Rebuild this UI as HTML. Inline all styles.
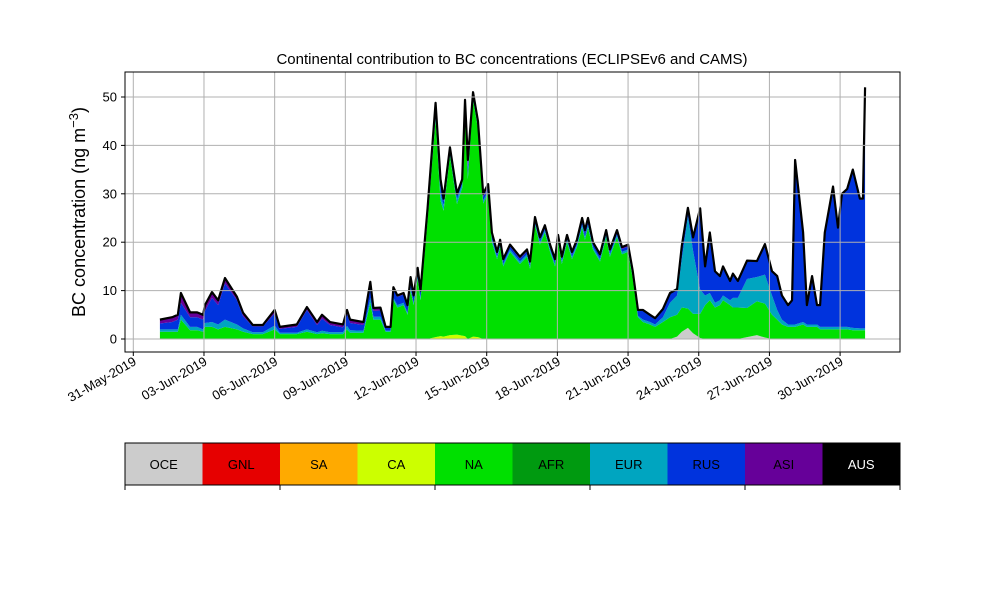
<!DOCTYPE html>
<html><head><meta charset="utf-8"><style>
body{margin:0;background:#fff}
svg text{font-family:"Liberation Sans","DejaVu Sans",sans-serif;fill:#000}
</style></head><body>
<svg id="c" width="1000" height="600"></svg>
<script>
const days=[1.13,1.65,1.89,2.02,2.41,2.71,2.96,3.04,3.34,3.6,3.89,4.4,4.66,5.07,5.5,6.0,6.22,6.94,7.37,7.8,8.01,8.35,8.9,9.07,9.2,9.77,10.06,10.19,10.49,10.71,10.92,11.04,11.21,11.47,11.64,11.77,11.9,12.07,12.19,12.49,12.83,13.04,13.17,13.44,13.74,13.96,14.08,14.2,14.42,14.63,14.85,15.06,15.22,15.44,15.57,15.7,15.99,16.41,16.71,16.84,17.05,17.26,17.47,17.69,17.9,18.03,18.19,18.41,18.62,18.83,19.05,19.17,19.3,19.51,19.81,20.07,20.23,20.53,20.74,21.0,21.2,21.42,21.63,21.93,22.15,22.48,22.78,23.08,23.28,23.54,23.76,24.06,24.27,24.47,24.69,24.9,25.03,25.33,25.45,25.66,26.05,26.47,26.81,27.11,27.33,27.53,27.79,27.96,28.09,28.43,28.59,28.81,29.02,29.15,29.35,29.7,29.91,30.08,30.3,30.54,30.84,30.97,31.06];
const total=[4,4.5,5,9.5,5.5,5.5,5,7,9.7,8,12.6,8.7,5.4,2.9,2.9,6,2.5,3,6.6,3.5,5,3.5,3,6,4,3.5,11.8,6.4,6.5,2.5,2.5,10.7,9,9.5,7,12.8,9,14.7,10,27,48.8,33,29,39.5,30,33,49.4,37,51,45,30,32,22,18,20.5,16.5,19.5,17,18.5,16,25.2,21,23.5,19.5,16.5,21.5,17,21.5,18,20.5,25,22.5,25,20,17.5,22.5,18.5,22.5,19,19.5,14,6,6,5,4.3,6.2,9.5,10,18,25,20,27,15,22,14,13,15,12,13.5,12,16,15.5,19.5,14,13,9,7,8,37,22,7,13,7,7,22,31.5,23,30,31,35,29,29,52];
const na=[1.5,1.5,1.5,4,1.8,1.8,1.5,2.5,2.5,2,2.5,2,1.5,1,1,2,1,1,1.5,1,1.2,1,1,2,1.3,1.3,7.5,4,4,1.5,1.5,8,6.5,7,5,10,7,12.5,8,24.5,45,28,26,37,27,30.5,46.5,33,49,43,28,30,20,16.5,19,15,18,15.5,17,14.5,23.5,19.5,22,18,15,20,15.5,20,16.5,19,23,20.5,23,18.5,16,21,17,21,17.5,18,12.5,4.5,3.5,3,2.5,3.5,4.5,4.5,5,4,4,5,7,8,6.5,7,8,7,6.5,6.5,6,7,7,5,4,3,2.5,2.5,2.5,3,2.5,2.5,2.5,2,2,2,2,2,2,1.8,1.8,1.8,1.8];
const eur=[0.5,0.5,0.5,1,0.7,0.7,0.5,0.8,1,1,1.5,1,0.7,0.4,0.4,0.8,0.3,0.3,0.5,0.4,0.5,0.4,0.4,0.7,0.5,0.4,1,0.6,0.6,0.2,0.2,0.5,0.5,0.5,0.4,0.5,0.4,0.5,0.4,0.8,1,1.5,1,0.8,1,0.8,0.8,1,0.6,0.6,0.6,0.6,0.6,0.5,0.5,0.5,0.5,0.5,0.5,0.5,0.5,0.5,0.5,0.5,0.5,0.5,0.5,0.5,0.5,0.5,0.6,0.6,0.6,0.5,0.5,0.5,0.5,0.5,0.5,0.5,0.5,0.3,0.5,0.5,0.5,1,3,4,10,19,13,5,2,1.5,1,1,1,1,2,2,6,5,6,4,2,1,0.5,0.5,0.5,0.5,0.5,0.5,0.5,0.5,0.5,0.5,0.5,0.5,0.5,0.5,0.4,0.4,0.4,0.4];
const rus=[1.2,1.5,2,2.5,2,2,2,2.5,5,4,7.5,5,2.5,1.2,1.2,2.5,0.8,1.2,4,1.5,2.5,1.5,1,2.5,1.5,1.2,2.5,1.2,1.3,0.6,0.6,1.8,1.7,1.7,1.4,2,1.4,1.5,1.4,1.2,1.5,1.5,1,1,1,1,1,1.5,0.8,0.8,0.8,0.8,0.8,0.6,0.6,0.6,0.6,0.6,0.6,0.6,0.6,0.6,0.6,0.6,0.6,0.6,0.6,0.6,0.6,0.6,0.8,0.8,0.8,0.6,0.6,0.6,0.6,0.6,0.6,0.6,0.6,1,1.8,1.3,1.1,1.5,1.8,1.3,2.7,1.8,2.8,16.8,5.8,12.3,6.3,4.8,5.8,3.8,4.8,3.3,3.8,3.3,6.3,4.8,6.8,4.8,3.8,4.8,33.8,18.3,3.8,9.8,3.8,4.3,19.3,28.8,20.3,27.3,28.3,32.6,26.6,26.6,49.6];
const oceDays=[23.08,23.28,23.54,23.76,24.06,26.05,26.47,26.81];
const oceVals=[0.5,1.5,2.3,1.2,0.2,0.4,0.8,0.3];
const caDays=[12.83,13.04,13.17,13.44,13.74,13.96,14.08,14.42,14.63];
const caVals=[0.4,0.6,0.5,0.8,0.9,0.7,0.6,0.5,0.4];
const oce=days.map(d=>{const k=oceDays.indexOf(d);return k<0?0:oceVals[k];});
const ca=days.map(d=>{const k=caDays.indexOf(d);return k<0?0:caVals[k];});
const yTicks=[0,10,20,30,40,50];
const xTickDays=[0,3,6,9,12,15,18,21,24,27,30];
const xTickLabels=["31-May-2019","03-Jun-2019","06-Jun-2019","09-Jun-2019","12-Jun-2019","15-Jun-2019","18-Jun-2019","21-Jun-2019","24-Jun-2019","27-Jun-2019","30-Jun-2019"];
const regions=["OCE","GNL","SA","CA","NA","AFR","EUR","RUS","ASI","AUS"];
const regionColors=["#cccccc","#e60000","#ffaa00","#ccff00","#00e000","#009a10","#00a5c0","#0033dd","#660099","#000000"];

const NS="http://www.w3.org/2000/svg",svg=document.getElementById('c');
function el(t,a,p){const e=document.createElementNS(NS,t);for(const k in a)e.setAttribute(k,a[k]);(p||svg).appendChild(e);return e;}
const L=125,R=900,T=72,B=352;
const X=d=>133.3+d*23.56, Y=v=>339-v*4.84;
const layers=[oce,ca,na,eur,rus];
const layerCols=["#cccccc","#ccff00","#00e000","#00a5c0","#0033dd"];
const layerNames=["oce-area","ca-area","na-area","eur-area","rus-area"];
let base=days.map(()=>0);
const stacks=[];
layers.forEach(arr=>{const top=base.map((b,i)=>b+arr[i]);stacks.push([base,top]);base=top;});
stacks.push([base,total.map((t,i)=>Math.max(t,base[i]))]);
layerCols.push("#660099");layerNames.push("asi-area");
const g=el('g',{});

stacks.forEach(([lo,hi],k)=>{
 let d='M'+days.map((t,i)=>X(t)+','+Y(hi[i])).join('L');
 for(let i=days.length-1;i>=0;i--)d+='L'+X(days[i])+','+Y(lo[i]);
 const p=el('path',{d:d+'Z',fill:layerCols[k],stroke:'none'},g);
 
});
const tl=el('polyline',{points:days.map((t,i)=>X(t)+','+Y(stacks[5][1][i])).join(' '),fill:'none',stroke:'#000','stroke-width':2.2,'stroke-linejoin':'round'});

yTicks.forEach(v=>{
 const l=el('line',{x1:L,x2:R,y1:Y(v),y2:Y(v),stroke:'#b0b0b0','stroke-width':1});
 
 el('line',{x1:L-4,x2:L,y1:Y(v),y2:Y(v),stroke:'#000'});
 const t=el('text',{x:L-8,y:Y(v)+4.5,'text-anchor':'end','font-size':13});t.textContent=v;
 
});
xTickDays.forEach((d,i)=>{
 const l=el('line',{x1:X(d),x2:X(d),y1:T,y2:B,stroke:'#b0b0b0','stroke-width':1});
 
 el('line',{x1:X(d),x2:X(d),y1:B,y2:B+4,stroke:'#000'});
 const t=el('text',{x:X(d)+4,y:B+12,'text-anchor':'end','font-size':13,transform:`rotate(-30 ${X(d)+4} ${B+12})`});t.textContent=xTickLabels[i];
 
});
const fr=el('rect',{x:L,y:T,width:R-L,height:B-T,fill:'none',stroke:'#000','stroke-width':1});

const ti=el('text',{x:512,y:64,'text-anchor':'middle','font-size':15});ti.textContent='Continental contribution to BC concentrations (ECLIPSEv6 and CAMS)';

const yl=el('text',{x:0,y:0,'text-anchor':'middle','font-size':18,transform:'translate(85 212) rotate(-90)'});
yl.innerHTML='BC concentration (ng m<tspan dy="-7" font-size="13">−3</tspan><tspan dy="7">)</tspan>';

const cw=(R-L)/regions.length;
regions.forEach((r,i)=>{
 const c=el('rect',{x:L+i*cw,y:443,width:cw,height:42,fill:regionColors[i]});
 
 const t=el('text',{x:L+i*cw+cw/2,y:469,'text-anchor':'middle','font-size':13});t.textContent=r;
 if(r==='AUS')t.setAttribute('style','fill:#fff');
 
});
el('rect',{x:L,y:443,width:R-L,height:42,fill:'none',stroke:'#000','stroke-width':1});
for(let i=0;i<=regions.length;i+=2)el('line',{x1:L+i*cw,x2:L+i*cw,y1:485,y2:490,stroke:'#000'});
</script>
</body></html>
